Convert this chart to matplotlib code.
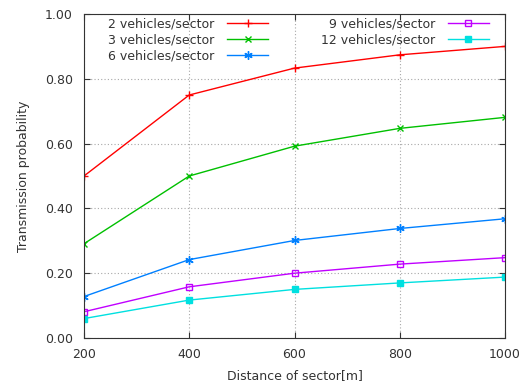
import matplotlib
matplotlib.use("Agg")
import matplotlib.pyplot as plt
from matplotlib.ticker import FormatStrFormatter

# data
distance = [200, 400, 600, 800, 1000]
veh_2 = [0.50, 0.75, 0.833, 0.874, 0.90]
veh_3 = [0.291, 0.50, 0.592, 0.647, 0.681]
veh_6 = [0.128, 0.242, 0.301, 0.338, 0.368]
veh_9 = [0.081, 0.158, 0.20, 0.228, 0.248]
veh_12 = [0.06, 0.117, 0.15, 0.17, 0.188]

plt.rcParams['font.family'] = ['DejaVu Sans']
plt.rcParams['font.size'] = 9

fig = plt.figure(figsize=(5.28, 3.88), dpi=100)
ax = fig.add_axes([84 / 528, 50 / 388, 421 / 528, 324 / 388])

ax.plot(distance, veh_2, color='#ff0000', marker='+', ms=6, lw=1, mew=1, label='2 vehicles/sector')
ax.plot(distance, veh_3, color='#00c000', marker='x', ms=5, lw=1, mew=1, label='3 vehicles/sector')
ax.plot(distance, veh_6, color='#0080ff', marker=(6, 2, 0), ms=6, lw=1, mew=1, label='6 vehicles/sector')
ax.plot(distance, veh_9, color='#c000ff', marker='s', ms=5, lw=1, mew=1, mfc='none', label='\u20079 vehicles/sector')
ax.plot(distance, veh_12, color='#00e0e0', marker='s', ms=5, lw=1, mew=1, label='12 vehicles/sector')

ax.set_xlim(200, 1000)
ax.set_ylim(0, 1.0)
ax.set_xticks(distance)
ax.set_yticks([0, 0.2, 0.4, 0.6, 0.8, 1.0])
ax.yaxis.set_major_formatter(FormatStrFormatter('%.2f'))
ax.tick_params(direction='in', top=True, right=True, length=4, colors='#333333', labelcolor='#333333')
ax.tick_params(axis='x', pad=7)
ax.tick_params(axis='y', pad=8)
ax.grid(True, linestyle=(0, (1, 2)), color='#a8a8a8', lw=0.8)
for s in ax.spines.values():
    s.set_color('#333333')

ax.set_xlabel('Distance of sector[m]', color='#333333', labelpad=6)
ax.set_ylabel('Transmission probability', color='#333333', labelpad=11)

# legend order: column 1 = 2,3,6 ; column 2 = 9,12
leg = ax.legend(ncol=2, loc='upper left', bbox_to_anchor=(0.04, 1.012), frameon=False,
                markerfirst=False, handlelength=3.3, handletextpad=1.0,
                columnspacing=4.2, labelspacing=0.22, borderaxespad=0.2)
for t in leg.get_texts():
    t.set_color('#333333')

fig.savefig('out.png', dpi=100)
